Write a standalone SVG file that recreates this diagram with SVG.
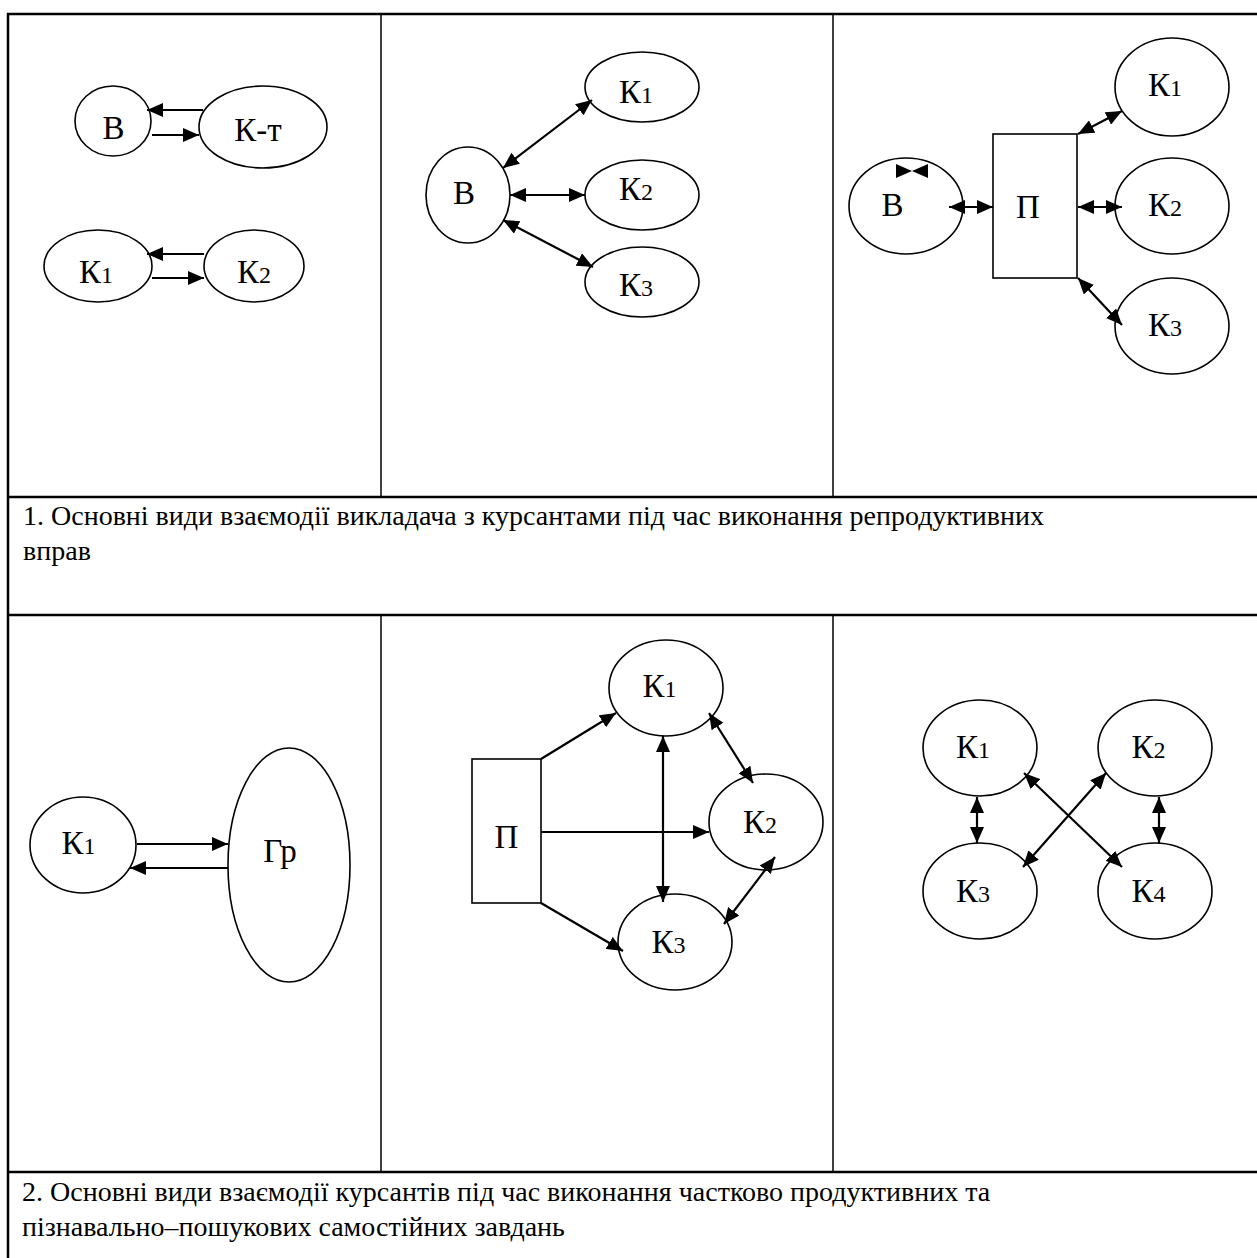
<svg xmlns="http://www.w3.org/2000/svg" width="1257" height="1258" viewBox="0 0 1257 1258">
<defs>
<style>
.frame{stroke:#000;stroke-width:2.5;fill:none}
.sep{stroke:#000;stroke-width:1.5;fill:none}
.nd{fill:#fff;stroke:#000;stroke-width:1.6}
.lbl{font-family:"Liberation Serif",serif;font-size:33px;fill:#000;text-anchor:middle}
.sub{font-size:24px}
.cap{font-family:"Liberation Serif",serif;font-size:28px;fill:#000}
.cn{stroke:#000;stroke-width:2.2;fill:none}
.one{marker-end:url(#ah)}
.two{marker-start:url(#ahs);marker-end:url(#ah)}
</style>
<marker id="ah" viewBox="0 0 16 14" refX="16" refY="7" markerWidth="16" markerHeight="14" markerUnits="userSpaceOnUse" orient="auto">
<path d="M0,0 L16,7 L0,14 z" fill="#000"/>
</marker>
<marker id="ahs" viewBox="0 0 16 14" refX="0" refY="7" markerWidth="16" markerHeight="14" markerUnits="userSpaceOnUse" orient="auto">
<path d="M16,0 L0,7 L16,14 z" fill="#000"/>
</marker>
</defs>
<rect width="1257" height="1258" fill="#fff"/>
<g id="table">
<line class="frame" x1="7" y1="14" x2="1257" y2="14"/>
<line class="frame" x1="8" y1="13" x2="8" y2="1258"/>
<line class="frame" x1="7" y1="497" x2="1257" y2="497"/>
<line class="frame" x1="7" y1="615" x2="1257" y2="615"/>
<line class="frame" x1="7" y1="1172" x2="1257" y2="1172"/>
<line class="sep" x1="381" y1="14" x2="381" y2="497"/>
<line class="sep" x1="833" y1="14" x2="833" y2="497"/>
<line class="sep" x1="381" y1="615" x2="381" y2="1172"/>
<line class="sep" x1="833" y1="615" x2="833" y2="1172"/>
</g>
<g id="captions">
<text class="cap" x="23" y="525">1. Основні види взаємодії викладача з курсантами під час виконання репродуктивних</text>
<text class="cap" x="23" y="560">вправ</text>
<text class="cap" x="22" y="1201">2. Основні види взаємодії курсантів під час виконання частково продуктивних та</text>
<text class="cap" x="22" y="1236">пізнавально–пошукових самостійних завдань</text>
</g>
<!-- panel 1 nodes -->
<g id="p1-v"><ellipse class="nd" cx="113" cy="121" rx="38" ry="35"/><text class="lbl" x="113.5" y="139">В</text></g>
<g id="p1-kt"><ellipse class="nd" cx="263" cy="127" rx="64" ry="41"/><text class="lbl" x="258" y="141">К-т</text></g>
<g id="p1-k1"><ellipse class="nd" cx="98" cy="266" rx="54" ry="36"/><text class="lbl" x="96" y="283">К<tspan class="sub">1</tspan></text></g>
<g id="p1-k2"><ellipse class="nd" cx="254" cy="266" rx="50" ry="36"/><text class="lbl" x="254" y="283">К<tspan class="sub">2</tspan></text></g>
<!-- panel 2 nodes -->
<g id="p2-v"><ellipse class="nd" cx="468" cy="195" rx="42" ry="48"/><text class="lbl" x="464" y="204">В</text></g>
<g id="p2-k1"><ellipse class="nd" cx="642" cy="87" rx="57" ry="35"/><text class="lbl" x="636" y="103">К<tspan class="sub">1</tspan></text></g>
<g id="p2-k2"><ellipse class="nd" cx="642" cy="195" rx="57" ry="35"/><text class="lbl" x="636" y="200">К<tspan class="sub">2</tspan></text></g>
<g id="p2-k3"><ellipse class="nd" cx="642" cy="282" rx="57" ry="35"/><text class="lbl" x="636" y="296">К<tspan class="sub">3</tspan></text></g>
<!-- panel 3 nodes -->
<g id="p3-v"><ellipse class="nd" cx="906" cy="206" rx="57" ry="48"/><text class="lbl" x="892.5" y="216">В</text>
<path d="M896,164 L896,178 L912,171 z M928,164 L928,178 L912,171 z" fill="#000"/></g>
<g id="p3-p"><rect class="nd" x="993" y="134" width="84" height="144"/><text class="lbl" x="1028" y="218">П</text></g>
<g id="p3-k1"><ellipse class="nd" cx="1172" cy="87" rx="57" ry="49"/><text class="lbl" x="1165" y="96">К<tspan class="sub">1</tspan></text></g>
<g id="p3-k2"><ellipse class="nd" cx="1172" cy="206" rx="57" ry="48"/><text class="lbl" x="1165" y="216">К<tspan class="sub">2</tspan></text></g>
<g id="p3-k3"><ellipse class="nd" cx="1172" cy="326" rx="57" ry="48"/><text class="lbl" x="1165" y="336">К<tspan class="sub">3</tspan></text></g>
<!-- panel 4 nodes -->
<g id="p4-k1"><ellipse class="nd" cx="83" cy="845" rx="53" ry="48"/><text class="lbl" x="78.5" y="854">К<tspan class="sub">1</tspan></text></g>
<g id="p4-gr"><ellipse class="nd" cx="289" cy="865" rx="61" ry="117"/><text class="lbl" x="280" y="862">Гр</text></g>
<!-- panel 5 nodes -->
<g id="p5-p"><rect class="nd" x="472" y="759" width="69" height="144"/><text class="lbl" x="506.5" y="848">П</text></g>
<g id="p5-k1"><ellipse class="nd" cx="666" cy="688" rx="57" ry="48"/><text class="lbl" x="659.5" y="697">К<tspan class="sub">1</tspan></text></g>
<g id="p5-k2"><ellipse class="nd" cx="766" cy="822" rx="57" ry="48"/><text class="lbl" x="760" y="833">К<tspan class="sub">2</tspan></text></g>
<g id="p5-k3"><ellipse class="nd" cx="675" cy="942" rx="57" ry="48"/><text class="lbl" x="668.5" y="953">К<tspan class="sub">3</tspan></text></g>
<!-- panel 6 nodes -->
<g id="p6-k1"><ellipse class="nd" cx="980" cy="748" rx="57" ry="48"/><text class="lbl" x="973" y="758">К<tspan class="sub">1</tspan></text></g>
<g id="p6-k2"><ellipse class="nd" cx="1155" cy="748" rx="57" ry="48"/><text class="lbl" x="1148.5" y="758">К<tspan class="sub">2</tspan></text></g>
<g id="p6-k3"><ellipse class="nd" cx="980" cy="891" rx="57" ry="48"/><text class="lbl" x="973" y="902">К<tspan class="sub">3</tspan></text></g>
<g id="p6-k4"><ellipse class="nd" cx="1155" cy="891" rx="57" ry="48"/><text class="lbl" x="1148.5" y="902">К<tspan class="sub">4</tspan></text></g>
<g id="connectors">
<!-- panel 1 -->
<line class="cn one" x1="203" y1="110" x2="147" y2="110"/>
<line class="cn one" x1="152" y1="135" x2="199" y2="135"/>
<line class="cn one" x1="204" y1="254" x2="147" y2="254"/>
<line class="cn one" x1="152" y1="278" x2="204" y2="278"/>
<!-- panel 2 -->
<line class="cn two" x1="503" y1="168" x2="592" y2="100"/>
<line class="cn two" x1="510" y1="195" x2="585" y2="195"/>
<line class="cn two" x1="503" y1="220" x2="593" y2="267"/>
<!-- panel 3 -->
<line class="cn two" x1="949" y1="207" x2="993" y2="207"/>
<line class="cn two" x1="1078" y1="134" x2="1122" y2="111"/>
<line class="cn two" x1="1078" y1="207" x2="1122" y2="207"/>
<line class="cn two" x1="1078" y1="278" x2="1122" y2="325"/>
<!-- panel 4 -->
<line class="cn one" x1="137" y1="844" x2="228" y2="844"/>
<line class="cn one" x1="228" y1="868" x2="130" y2="868"/>
<!-- panel 5 -->
<line class="cn one" x1="541" y1="759" x2="616" y2="713"/>
<line class="cn one" x1="541" y1="832" x2="709" y2="832"/>
<line class="cn one" x1="541" y1="903" x2="623" y2="951"/>
<line class="cn two" x1="663" y1="736" x2="663" y2="902"/>
<line class="cn two" x1="709" y1="713" x2="753" y2="783"/>
<line class="cn two" x1="775" y1="857" x2="724" y2="924"/>
<!-- panel 6 -->
<line class="cn two" x1="977" y1="797" x2="977" y2="843"/>
<line class="cn two" x1="1159" y1="797" x2="1159" y2="843"/>
<line class="cn two" x1="1024" y1="773" x2="1122" y2="867"/>
<line class="cn two" x1="1106" y1="773" x2="1023" y2="867"/>
</g>
</svg>
